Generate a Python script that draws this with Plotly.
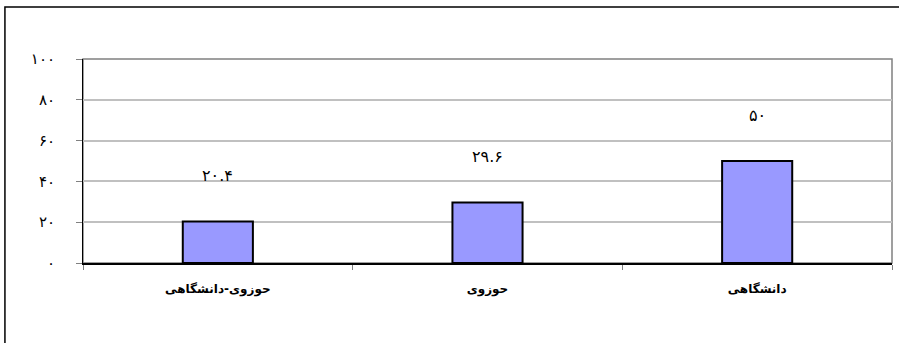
import plotly.graph_objects as go

categories = ["حوزوی-دانشگاهی", "حوزوی", "دانشگاهی"]
values = [20.4, 29.6, 50]
value_labels = ["۲۰.۴", "۲۹.۶", "۵۰"]
y_tickvals = [0, 20, 40, 60, 80, 100]
y_ticktext = ["۰", "۲۰", "۴۰", "۶۰", "۸۰", "۱۰۰"]

fig = go.Figure()
fig.add_trace(go.Bar(
    x=categories, y=values,
    marker=dict(color="#9999ff", line=dict(color="#000000", width=2)),
    width=0.26,
    hoverinfo="skip",
))

for c, v, t in zip(categories, values, value_labels):
    fig.add_annotation(x=c, y=v, text=t, showarrow=False, yshift=46,
                       font=dict(family="DejaVu Sans", size=16, color="#000"))

# outer chart frame
fig.add_shape(type="rect", xref="paper", yref="paper",
              x0=-0.0965, x1=1.2, y0=-0.6, y1=1.255,
              line=dict(color="#000", width=1.5), fillcolor="rgba(0,0,0,0)", layer="below")

fig.update_layout(
    width=899, height=343,
    margin=dict(l=83, r=7, t=59, b=80),
    paper_bgcolor="white", plot_bgcolor="white",
    showlegend=False,
    bargap=0.74,
    font=dict(family="DejaVu Sans", size=12, color="#000"),
    xaxis=dict(
        type="category", tickson="boundaries", ticks="outside", ticklen=5,
        tickcolor="#808080", showline=True, linecolor="#000", linewidth=1.5,
        mirror=False, showgrid=False,
        tickfont=dict(family="DejaVu Sans", size=12, color="#000", weight="bold"),
        ticklabelstandoff=14,
    ),
    yaxis=dict(
        range=[0, 100], tickvals=y_tickvals, ticktext=y_ticktext,
        ticks="outside", ticklen=6, tickcolor="#808080",
        showline=True, linecolor="#000", linewidth=1,
        showgrid=True, gridcolor="#c0c0c0", gridwidth=1.5,
        zeroline=False,
        tickfont=dict(family="DejaVu Sans", size=15, color="#000"),
        ticklabelstandoff=18,
    ),
)
# top/right gray border of plot area
fig.add_shape(type="rect", xref="paper", yref="paper", x0=0, x1=1, y0=0, y1=1,
              line=dict(color="#808080", width=1.5), layer="below")

fig.write_html("out.html")
